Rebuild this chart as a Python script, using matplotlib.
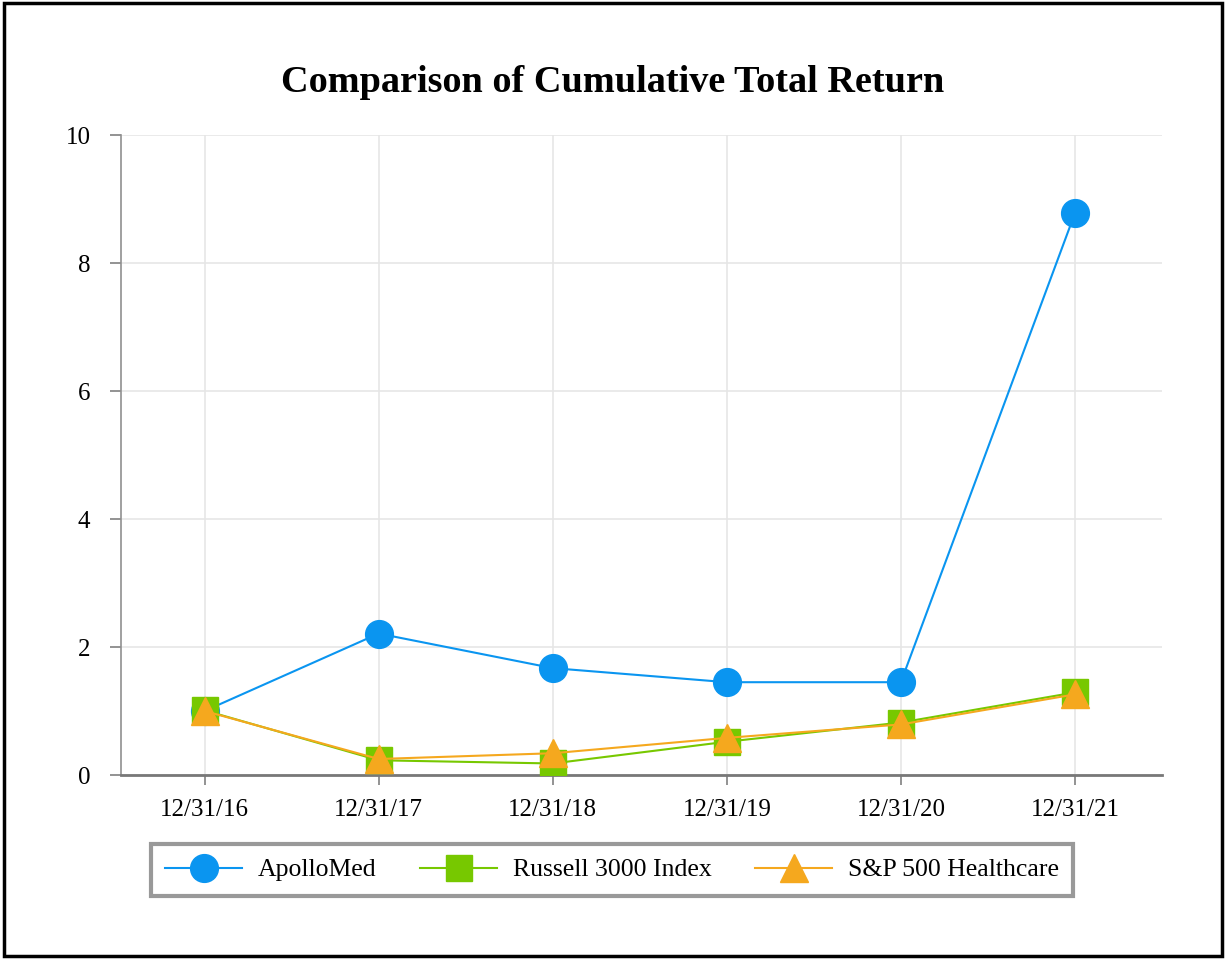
import matplotlib.pyplot as plt
from matplotlib.patches import Rectangle

# chart data
dates = ["12/31/16", "12/31/17", "12/31/18", "12/31/19", "12/31/20", "12/31/21"]
apollomed = [1.00, 2.21, 1.67, 1.45, 1.45, 8.78]
russell = [1.01, 0.23, 0.18, 0.52, 0.82, 1.29]
sp_health = [1.00, 0.25, 0.34, 0.58, 0.79, 1.26]
y_ticks = [0, 2, 4, 6, 8, 10]

plt.rcParams['font.family'] = ['Liberation Serif', 'DejaVu Serif']

fig = plt.figure(figsize=(12.26, 9.6), dpi=100)
ax = fig.add_axes([121 / 1226, 1 - 775 / 960, (1162 - 121) / 1226, (775 - 135) / 960])

x = list(range(len(dates)))
ax.plot(x, apollomed, color='#0A95F0', lw=1.5, marker='o', ms=20, label='ApolloMed', zorder=3)
ax.plot(x, russell, color='#77C800', lw=1.5, marker='s', ms=19, label='Russell 3000 Index', zorder=4)
ax.plot(x, sp_health, color='#F5A81E', lw=1.5, marker='^', ms=20, label='S&P 500 Healthcare', zorder=5)

ax.set_xlim(-0.48, 5.5)
ax.set_ylim(0, 10)
ax.set_xticks(x)
ax.set_xticklabels(dates)
ax.set_yticks(y_ticks)
ax.tick_params(axis='both', labelsize=18, colors='#808080', labelcolor='black', width=1.2)
ax.tick_params(axis='x', length=7, pad=10)
ax.tick_params(axis='y', length=8, pad=14)
ax.grid(True, color='#E6E6E6', lw=1.2)
ax.set_axisbelow(True)
for side in ['top', 'right']:
    ax.spines[side].set_visible(False)
ax.spines['left'].set_color('#909090')
ax.spines['left'].set_linewidth(1.2)
ax.spines['bottom'].set_color('#787878')
ax.spines['bottom'].set_linewidth(2)

fig.text(0.5, 1 - 83 / 960, 'Comparison of Cumulative Total Return', ha='center', va='center',
         fontsize=27.5, fontweight='bold')

leg = fig.legend(loc='center', bbox_to_anchor=(612 / 1226, 1 - 870 / 960), ncol=3, fontsize=18.5,
                 frameon=True, fancybox=False, edgecolor='#808080', borderpad=0.55,
                 handlelength=3.0, handletextpad=0.6, columnspacing=1.7)
leg.get_frame().set_linewidth(3)

fig.patches.append(Rectangle((0.003, 0.004), 0.994, 0.993, transform=fig.transFigure,
                             fill=False, edgecolor='black', lw=2.5))

fig.savefig('out.png', dpi=100)
